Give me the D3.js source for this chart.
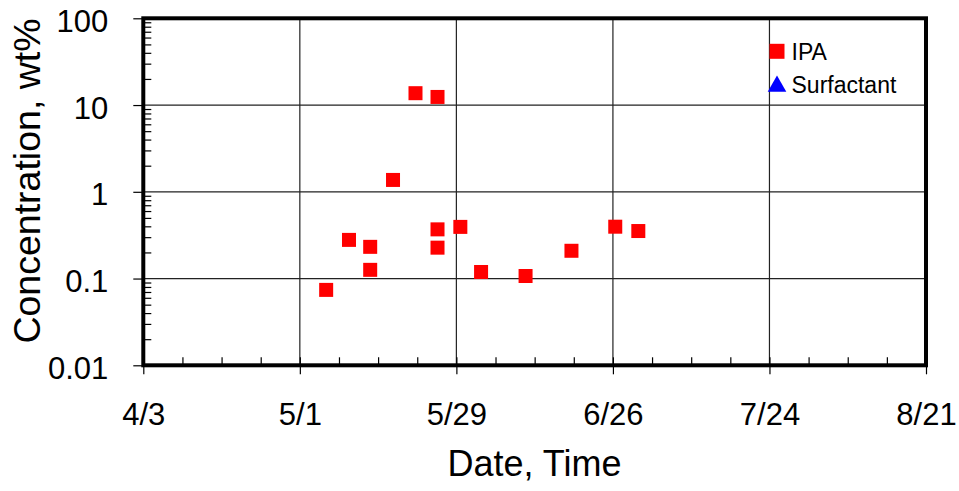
<!DOCTYPE html>
<html>
<head>
<meta charset="utf-8">
<script src="https://cdn.jsdelivr.net/npm/d3@7"></script>
<style>
body { margin: 0; background: #fff; }
text { font-family: "Liberation Sans", Arial, sans-serif; fill: #000; }
</style>
</head>
<body>
<div id="graph"></div>
<script>
// Data (sample date/time, wt%)
const ipaDates = ['05/05 17:00', '05/09 19:00', '05/13 14:00', '05/13 14:00', '05/17 16:00',
	'05/21 16:30', '05/25 15:00', '05/25 15:00', '05/25 15:00', '05/29 17:00',
	'06/02 10:00', '06/10 09:00', '06/18 14:00', '06/26 10:00', '06/30 13:00'];
const ipaValues = [0.074, 0.279, 0.232, 0.126, 1.37,
	13.7, 12.4, 0.369, 0.227, 0.394,
	0.119, 0.107, 0.209, 0.396, 0.353];
const surfactantDates = [];
const surfactantValues = [];
const xTickLabels = ['4/3', '5/1', '5/29', '6/26', '7/24', '8/21'];
const yTickLabels = ['0.01', '0.1', '1', '10', '100'];
const seriesNames = ['IPA', 'Surfactant'];

// Dimensions
const W = 959, H = 491;
const margin = { top: 18.3, right: 33, bottom: 125.7, left: 143.3 },
	width = W - margin.left - margin.right,
	height = H - margin.top - margin.bottom;

const parseDate = d3.utcParse('%m/%d %H:%M');
const parseTick = d3.utcParse('%m/%d');

const svg = d3
	.select('#graph')
	.append('svg')
	.attr('width', W)
	.attr('height', H)
	.append('g')
	.attr('transform', `translate(${margin.left}, ${margin.top})`);

const xStart = parseTick(xTickLabels[0].split('/').map((d) => d.padStart(2, '0')).join('/'));
const xEnd = parseTick(xTickLabels[xTickLabels.length - 1].split('/').map((d) => d.padStart(2, '0')).join('/'));

const x = d3.scaleUtc().domain([xStart, xEnd]).range([0, width]);
const y = d3.scaleLog().domain([+yTickLabels[0], +yTickLabels[yTickLabels.length - 1]]).range([height, 0]);

const majorX = d3.utcDay.range(xStart, d3.utcDay.offset(xEnd, 1), 28);
const minorX = d3.utcDay.range(xStart, d3.utcDay.offset(xEnd, 1), 7);
const majorY = yTickLabels.map(Number);
const minorY = y.ticks().filter((v) => majorY.indexOf(v) < 0);

// Gridlines
svg
	.append('g')
	.selectAll('line')
	.data(majorX.slice(1, -1))
	.join('line')
	.attr('x1', (d) => x(d))
	.attr('x2', (d) => x(d))
	.attr('y1', 0)
	.attr('y2', height)
	.attr('stroke', '#222')
	.attr('stroke-width', 1.2);
svg
	.append('g')
	.selectAll('line')
	.data(majorY.slice(1, -1))
	.join('line')
	.attr('x1', 0)
	.attr('x2', width)
	.attr('y1', (d) => y(d))
	.attr('y2', (d) => y(d))
	.attr('stroke', '#222')
	.attr('stroke-width', 1.2);

// IPA points
const ipa = ipaDates.map((d, i) => ({ date: parseDate(d), value: ipaValues[i] }));
const s = 14;
svg
	.append('g')
	.selectAll('rect')
	.data(ipa)
	.join('rect')
	.attr('x', (d) => x(d.date) - s / 2)
	.attr('y', (d) => y(d.value) - s / 2)
	.attr('width', s)
	.attr('height', s)
	.attr('fill', '#ff0000');

// Surfactant points (none plotted)
const surf = surfactantDates.map((d, i) => ({ date: parseDate(d), value: surfactantValues[i] }));
svg
	.append('g')
	.selectAll('path')
	.data(surf)
	.join('path')
	.attr('d', d3.symbol(d3.symbolTriangle, 150))
	.attr('transform', (d) => `translate(${x(d.date)}, ${y(d.value)})`)
	.attr('fill', '#0000ff');

// X axis: minor ticks inside, major ticks outside
svg
	.append('g')
	.attr('transform', `translate(0, ${height})`)
	.call(d3.axisBottom(x).tickValues(minorX).tickSize(-8).tickFormat(''))
	.call((g) => g.select('.domain').remove())
	.selectAll('line')
	.attr('stroke', '#000')
	.attr('stroke-width', 1.2);
const xAxis = svg
	.append('g')
	.attr('transform', `translate(0, ${height})`)
	.call(
		d3
			.axisBottom(x)
			.tickValues(majorX)
			.tickSize(9)
			.tickPadding(28)
			.tickFormat((d, i) => xTickLabels[i])
	);
xAxis.select('.domain').remove();
xAxis.selectAll('.tick line').attr('stroke', '#000').attr('stroke-width', 1.2);
xAxis.selectAll('.tick text').attr('font-size', 31).attr('dy', 0).attr('y', 60);

// Y axis: minor ticks inside, major ticks outside
svg
	.append('g')
	.call(d3.axisLeft(y).tickValues(minorY).tickSize(-8).tickFormat(''))
	.call((g) => g.select('.domain').remove())
	.selectAll('line')
	.attr('stroke', '#000')
	.attr('stroke-width', 1.2);
const yAxis = svg
	.append('g')
	.call(
		d3
			.axisLeft(y)
			.tickValues(majorY)
			.tickSize(10)
			.tickPadding(25)
			.tickFormat((d, i) => yTickLabels[i])
	);
yAxis.select('.domain').remove();
yAxis.selectAll('.tick line').attr('stroke', '#000').attr('stroke-width', 1.2);
yAxis.selectAll('.tick text').attr('font-size', 31).attr('dy', 0).attr('y', 13);

// Frame
svg
	.append('rect')
	.attr('x', 0)
	.attr('y', 0)
	.attr('width', width)
	.attr('height', height)
	.attr('fill', 'none')
	.attr('stroke', '#000')
	.attr('stroke-width', 4);

// Axis titles
svg
	.append('text')
	.attr('text-anchor', 'middle')
	.attr('x', 534.5 - margin.left)
	.attr('y', 476 - margin.top)
	.attr('font-size', 36)
	.text('Date, Time');
svg
	.append('text')
	.attr('text-anchor', 'middle')
	.attr('transform', `translate(${40 - margin.left}, ${181 - margin.top}) rotate(-90)`)
	.attr('font-size', 37.5)
	.text('Concentration, wt%');

// Legend
const legend = svg.append('g').attr('transform', `translate(${777 - margin.left}, ${51.3 - margin.top})`);
legend
	.append('rect')
	.attr('x', -7.5)
	.attr('y', -7.5)
	.attr('width', 15)
	.attr('height', 15)
	.attr('fill', '#ff0000');
legend
	.append('path')
	.attr('d', d3.symbol(d3.symbolTriangle, 150))
	.attr('transform', 'translate(0, 35)')
	.attr('fill', '#0000ff');
legend
	.selectAll('.lbl')
	.data(seriesNames)
	.join('text')
	.attr('class', 'lbl')
	.attr('x', 14.5)
	.attr('y', (d, i) => 8.5 + i * 33)
	.attr('font-size', 23)
	.text((d) => d);
</script>
</body>
</html>
